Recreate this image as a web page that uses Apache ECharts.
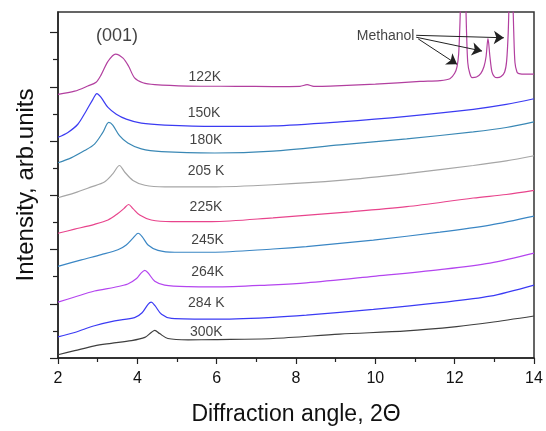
<!DOCTYPE html>
<html>
<head>
<meta charset="utf-8">
<script src="https://cdn.jsdelivr.net/npm/echarts@6/dist/echarts.min.js"></script>
<style>
html,body{margin:0;padding:0;background:#fff;}
#chart{width:546px;height:431px;}
</style>
</head>
<body>
<div id="chart"></div>
<script>
// ---- data (x = diffraction angle 2Θ, y = intensity in arb. units, stacked offsets) ----
const temps = ['122K','150K','180K','205 K','225K','245K','264K','284 K','300K'];

const x122 = [2,2.42,2.75,2.96,3.09,3.26,3.45,3.64,3.78,3.93,4.14,4.44,5.28,6.5,7.42,8.1,8.28,8.45,8.86,10.0,11.13,11.63,11.88,12.0,12.06,12.1,12.13,12.16,12.22,12.27,12.3,12.33,12.38,12.44,12.55,12.66,12.74,12.79,12.84,12.89,12.94,13.0,13.07,13.17,13.26,13.31,13.35,13.38,13.42,13.46,13.49,13.52,13.57,13.62,13.8,14];
const y122 = [9.72,9.84,10.03,10.17,10.45,10.94,11.21,11.06,10.76,10.33,10.15,10.08,10.03,10.02,10.01,10.02,10.08,10.02,10.03,10.1,10.2,10.23,10.3,10.5,10.75,11.2,12.2,13.5,14.5,13.5,12.0,10.9,10.5,10.34,10.36,10.5,10.75,11.1,11.78,11.1,10.55,10.38,10.34,10.38,10.55,10.95,12.0,13.5,14.5,13.5,12.0,10.9,10.55,10.49,10.47,10.47];

const x150 = [2,2.25,2.5,2.71,2.88,2.98,3.09,3.26,3.47,3.72,4.10,4.69,5.95,7.42,9.11,10.79,12.47,13.3,14];
const y150 = [8.14,8.32,8.62,9.11,9.54,9.75,9.60,9.24,8.99,8.81,8.66,8.59,8.54,8.56,8.71,8.91,9.17,9.35,9.56];

const x180 = [2,2.33,2.67,2.92,3.13,3.28,3.38,3.55,3.76,4.10,4.61,5.95,7.42,9.11,10.79,12.47,13.3,14];
const y180 = [7.20,7.38,7.65,7.89,8.32,8.69,8.59,8.20,7.93,7.71,7.61,7.56,7.63,7.86,8.08,8.34,8.50,8.71];

const x205 = [2,2.42,2.84,3.17,3.38,3.55,3.68,3.89,4.19,4.69,5.87,7.42,9.11,10.79,12.47,13.3,14];
const y205 = [5.91,6.09,6.31,6.49,6.79,7.10,6.86,6.55,6.37,6.31,6.31,6.39,6.55,6.80,7.10,7.27,7.46];

const x225 = [2,2.42,2.92,3.26,3.51,3.66,3.78,3.89,4.06,4.35,4.86,5.87,7.42,9.36,10.79,12.47,13.3,14];
const y225 = [4.60,4.75,4.93,5.09,5.33,5.51,5.66,5.51,5.27,5.09,5.03,5.03,5.17,5.39,5.58,5.90,6.03,6.18];

const x245 = [2,2.59,3.09,3.51,3.72,3.89,4.02,4.12,4.27,4.52,4.94,5.87,7.42,8.26,9.95,11.63,12.89,14];
const y245 = [3.38,3.62,3.81,3.99,4.17,4.42,4.60,4.48,4.17,3.97,3.90,3.90,4.02,4.11,4.35,4.64,4.90,5.23];

const x264 = [2,2.42,2.92,3.43,3.76,3.98,4.10,4.19,4.27,4.44,4.69,5.28,5.95,7.42,8.26,9.95,11.63,12.89,14];
const y264 = [2.06,2.25,2.47,2.61,2.73,2.93,3.14,3.23,3.14,2.83,2.69,2.63,2.62,2.70,2.77,3.01,3.26,3.50,3.87];

const x284 = [2,2.42,2.92,3.43,3.93,4.12,4.27,4.35,4.44,4.61,4.86,5.95,7.42,8.26,9.95,11.63,12.89,14];
const y284 = [0.78,0.94,1.19,1.37,1.49,1.67,1.98,2.06,1.94,1.61,1.46,1.43,1.50,1.58,1.79,2.04,2.28,2.69];

const x300 = [2,2.42,2.92,3.34,3.85,4.19,4.35,4.44,4.56,4.77,5.28,5.95,7.42,9.10,10.79,12.05,12.89,14];
const y300 = [0.12,0.27,0.45,0.54,0.64,0.76,0.94,1.02,0.90,0.72,0.67,0.68,0.72,0.88,1.00,1.16,1.31,1.55];

// curve labels (temperature) positions in data space
const labelX = [5.70,5.68,5.73,5.73,5.73,5.77,5.77,5.74,5.74];
const labelY = [10.37,9.02,8.05,6.89,5.58,4.35,3.16,2.04,0.97];

// annotations
const peakText = '(001)';
const peakPos = [3.49, 11.86];
const methText = 'Methanol';
const methPos = [10.26, 11.88];
const arrowFrom = [[11.03,11.90],[11.03,11.83],[11.08,11.77]];
const arrowTo = [[13.24,11.81],[12.69,11.32],[12.06,10.83]];

// axis ticks
const xTicks = [2,4,6,8,10,12,14];
const yMajorTicks = [0,2,4,6,8,10,12];
const yMinorTicks = [1,3,5,7,9,11];

// ---- chart ----
const xs = [x122,x150,x180,x205,x225,x245,x264,x284,x300];
const ys = [y122,y150,y180,y205,y225,y245,y264,y284,y300];
const colors = ['#b23f9f','#3b3bf2','#3a88b5','#a6a6a6','#e8448c','#3a86c4','#b445ef','#3b3bf4','#3f3f3f'];
const FONT = 'Liberation Sans, Arial, sans-serif';

const series = xs.map((xa, i) => ({
  type: 'line',
  name: temps[i],
  data: xa.map((x, j) => [x, ys[i][j]]),
  showSymbol: false,
  smooth: 0.3,
  clip: true,
  lineStyle: { color: colors[i], width: 1.2 },
  itemStyle: { color: colors[i] },
  silent: true
}));

const labelData = temps.map((t, i) => ({
  value: [labelX[i], labelY[i]],
  label: { formatter: t, fontSize: 14 }
}));
labelData.push({ value: peakPos, label: { formatter: peakText, fontSize: 18 } });
labelData.push({ value: methPos, label: { formatter: methText, fontSize: 14 } });

series.push({
  type: 'scatter',
  data: labelData,
  symbolSize: 0,
  silent: true,
  label: { show: true, position: 'inside', color: '#111', fontFamily: FONT }
});

series.push({
  type: 'line',
  data: [],
  silent: true,
  markLine: {
    silent: true,
    symbol: ['none', 'arrow'],
    symbolSize: 10,
    label: { show: false },
    lineStyle: { color: '#222', width: 1, type: 'solid' },
    data: arrowFrom.map((s, i) => [{ coord: s }, { coord: arrowTo[i] }])
  }
});

const chart = echarts.init(document.getElementById('chart'), null, { renderer: 'canvas' });
chart.setOption({
  animation: false,
  backgroundColor: '#fff',
  grid: { left: 58, right: 12, top: 12, bottom: 70, show: true, borderColor: '#333', borderWidth: 1.5 },
  xAxis: {
    type: 'value', min: 2, max: 14, interval: 2,
    name: 'Diffraction angle, 2\u0398', nameLocation: 'middle', nameGap: 45,
    nameTextStyle: { fontSize: 23, color: '#111', fontFamily: FONT },
    axisLine: { lineStyle: { color: '#222', width: 1.5 } },
    axisTick: { show: true, inside: false, length: 6, lineStyle: { color: '#222', width: 1.2 }, customValues: xTicks },
    minorTick: { show: true, splitNumber: 2, length: 4, lineStyle: { color: '#222', width: 1.2 } },
    axisLabel: { fontSize: 16, color: '#111', margin: 13, fontFamily: FONT, customValues: xTicks },
    splitLine: { show: false }
  },
  yAxis: [
    {
      type: 'value', min: 0, max: 12.76,
      name: 'Intensity, arb.units', nameLocation: 'middle', nameGap: 20, nameRotate: 90,
      nameTextStyle: { fontSize: 24, color: '#111', fontFamily: FONT },
      axisLine: { show: true, lineStyle: { color: '#222', width: 1.5 } },
      axisTick: { show: true, inside: false, length: 8, lineStyle: { color: '#222', width: 1.2 }, customValues: yMajorTicks },
      axisLabel: { show: false },
      splitLine: { show: false }
    },
    {
      type: 'value', min: 0, max: 12.76, position: 'left',
      axisLine: { show: false },
      axisTick: { show: true, inside: false, length: 5, lineStyle: { color: '#222', width: 1.2 }, customValues: yMinorTicks },
      axisLabel: { show: false },
      splitLine: { show: false }
    }
  ],
  series: series
});
</script>
</body>
</html>
